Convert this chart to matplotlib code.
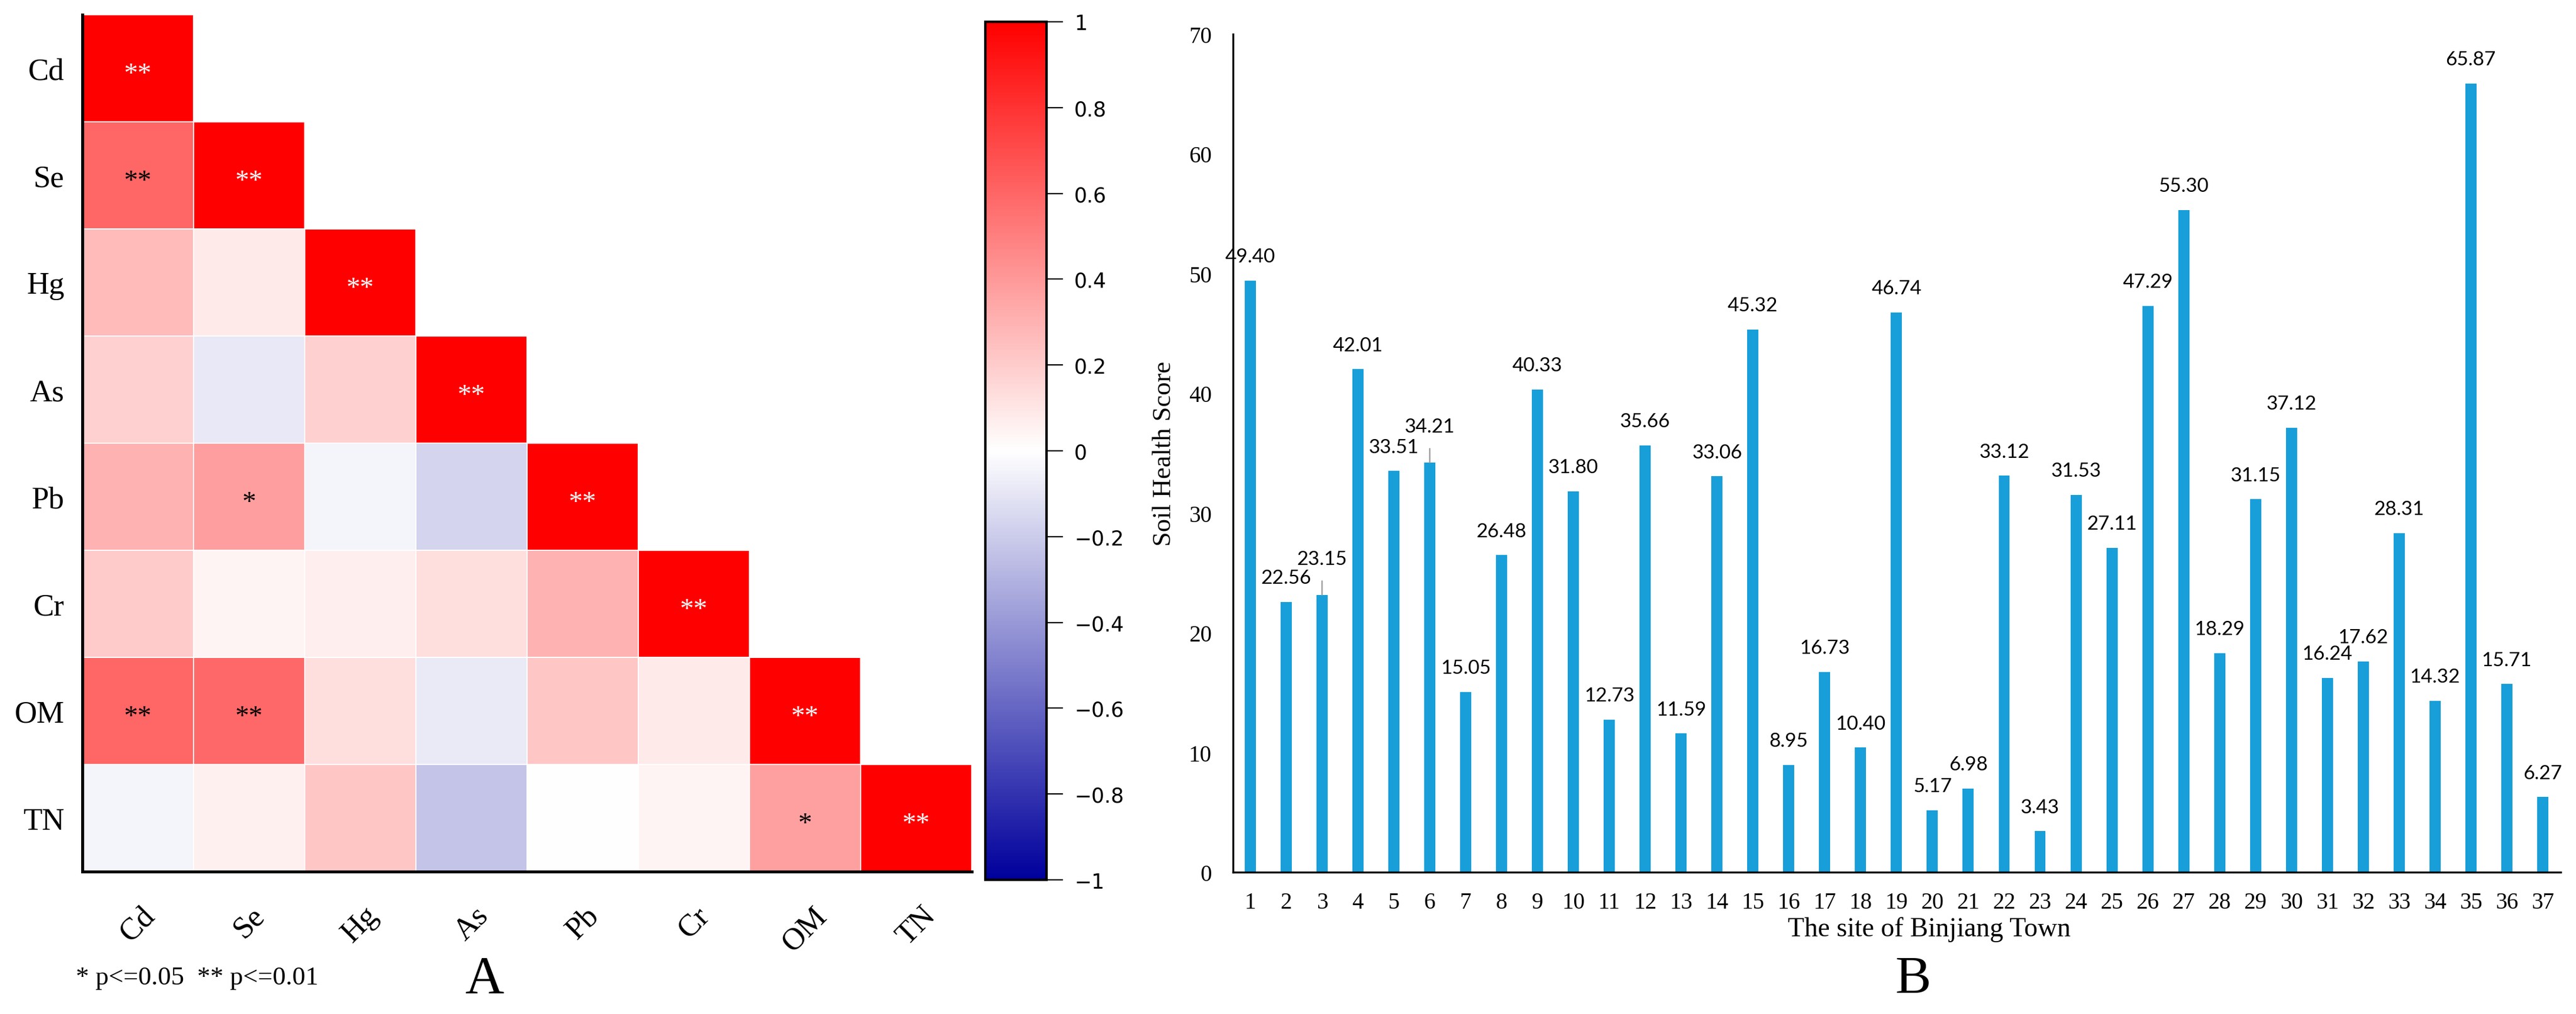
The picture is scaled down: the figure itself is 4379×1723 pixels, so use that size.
#!/usr/bin/env python3
import numpy as np
import matplotlib
matplotlib.use('Agg')
import matplotlib.pyplot as plt
from matplotlib.colors import LinearSegmentedColormap

plt.rcParams['font.family'] = ['Liberation Serif', 'DejaVu Serif']

# Data for panel A (lower triangle of the correlation matrix)
variables = ['Cd', 'Se', 'Hg', 'As', 'Pb', 'Cr', 'OM', 'TN']
corr_rows = [
    [1.00],
    [0.60, 1.00],
    [0.27, 0.08, 1.00],
    [0.18, -0.09, 0.18, 1.00],
    [0.30, 0.38, -0.04, -0.17, 1.00],
    [0.21, 0.04, 0.07, 0.13, 0.30, 1.00],
    [0.60, 0.59, 0.13, -0.08, 0.22, 0.08, 1.00],
    [-0.04, 0.06, 0.22, -0.23, 0.00, 0.04, 0.37, 1.00],
]
sig_rows = [
    ['**'],
    ['**', '**'],
    ['', '', '**'],
    ['', '', '', '**'],
    ['', '*', '', '', '**'],
    ['', '', '', '', '', '**'],
    ['**', '**', '', '', '', '', '**'],
    ['', '', '', '', '', '', '*', '**'],
]
cbar_ticks = [1, 0.8, 0.6, 0.4, 0.2, 0, -0.2, -0.4, -0.6, -0.8, -1]

# Data for panel B
sites = np.arange(1, 38)
scores = [49.40, 22.56, 23.15, 42.01, 33.51, 34.21, 15.05, 26.48, 40.33, 31.80,
          12.73, 35.66, 11.59, 33.06, 45.32, 8.95, 16.73, 10.40, 46.74, 5.17,
          6.98, 33.12, 3.43, 31.53, 27.11, 47.29, 55.30, 18.29, 31.15, 37.12,
          16.24, 17.62, 28.31, 14.32, 65.87, 15.71, 6.27]
leader_sites = [3, 6]

n = len(variables)
corr = np.full((n, n), np.nan)
for i, row in enumerate(corr_rows):
    corr[i, :len(row)] = row
corr = np.ma.masked_invalid(corr)

cmap = LinearSegmentedColormap.from_list('bwr_custom', ['#00009C', '#FFFFFF', '#FF0000'])

fig = plt.figure(figsize=(4379 / 200, 1724 / 200), dpi=200)

# ---- Panel A: heatmap ----
ax1 = fig.add_axes([0.03197, 0.14037, 0.34528, 0.84455])
mesh = ax1.pcolormesh(np.arange(n + 1) - 0.5, np.arange(n + 1) - 0.5, corr,
                      cmap=cmap, vmin=-1, vmax=1, edgecolors='white', linewidth=0.6)
ax1.set_xlim(-0.5, n - 0.5)
ax1.set_ylim(n - 0.5, -0.5)
fs_mark = 17
for i, row in enumerate(sig_rows):
    for j, mark in enumerate(row):
        if mark:
            col = 'white' if corr_rows[i][j] > 0.9 else 'black'
            ax1.annotate(mark, (j, i), xytext=(0, -0.47 * fs_mark), textcoords='offset points',
                         ha='center', va='baseline', fontsize=fs_mark, color=col)
ax1.set_xticks(range(n))
ax1.set_xticklabels(variables, rotation=45, ha='center', va='top', fontsize=19)
ax1.set_yticks(range(n))
ax1.set_yticklabels(variables, fontsize=19)
ax1.tick_params(axis='both', length=0)
ax1.tick_params(axis='x', pad=18)
ax1.tick_params(axis='y', pad=11)
for side in ['top', 'right']:
    ax1.spines[side].set_visible(False)
for side in ['left', 'bottom']:
    ax1.spines[side].set_linewidth(1.8)

# colorbar
cax = fig.add_axes([0.38251, 0.13225, 0.02375, 0.84571])
cb = fig.colorbar(mesh, cax=cax, ticks=cbar_ticks)
cb.ax.set_yticklabels([('%g' % t).replace('-', '\u2212') for t in cbar_ticks],
                      family='DejaVu Sans', fontsize=12.5)
cb.outline.set_linewidth(1.5)
cb.ax.tick_params(length=10, width=0.8, pad=7)

fig.text(0.0295, 0.036, '* p<=0.05  ** p<=0.01', fontsize=16, ha='left', va='center')
fig.text(0.188, 0.034, 'A', fontsize=33, ha='center', va='center')

# ---- Panel B: bar chart ----
ax2 = fig.add_axes([0.47865, 0.13979, 0.51541, 0.82599])
ax2.bar(sites, scores, width=0.31, color='#189ED9')
ax2.set_xlim(0.52, 37.5)
ax2.set_ylim(0, 70)
ax2.set_yticks(np.arange(0, 71, 10))
ax2.set_xticks(sites)
ax2.tick_params(axis='both', length=0, labelsize=14)
ax2.tick_params(axis='y', pad=13)
ax2.tick_params(axis='x', pad=12)
for side in ['top', 'right']:
    ax2.spines[side].set_visible(False)
for side in ['left', 'bottom']:
    ax2.spines[side].set_linewidth(1.2)

for s, v in zip(sites, scores):
    if s in leader_sites:
        ax2.annotate('%.2f' % v, xy=(s, v), xytext=(s, v + 3), ha='center', va='center',
                     family='Lato', fontsize=12,
                     arrowprops=dict(arrowstyle='-', color='#999999', lw=0.8,
                                     shrinkA=6, shrinkB=0))
    else:
        ax2.text(s, v + 2, '%.2f' % v, ha='center', va='center', family='Lato', fontsize=12)

ax2.set_ylabel('Soil Health Score', fontsize=16, labelpad=8)
fig.text(0.749, 1 - 1580 / 1724, 'The site of Binjiang Town', fontsize=16.5, ha='center', va='center')
fig.text(0.7426, 0.034, 'B', fontsize=33, ha='center', va='center')

fig.savefig('out.png', dpi=200)
